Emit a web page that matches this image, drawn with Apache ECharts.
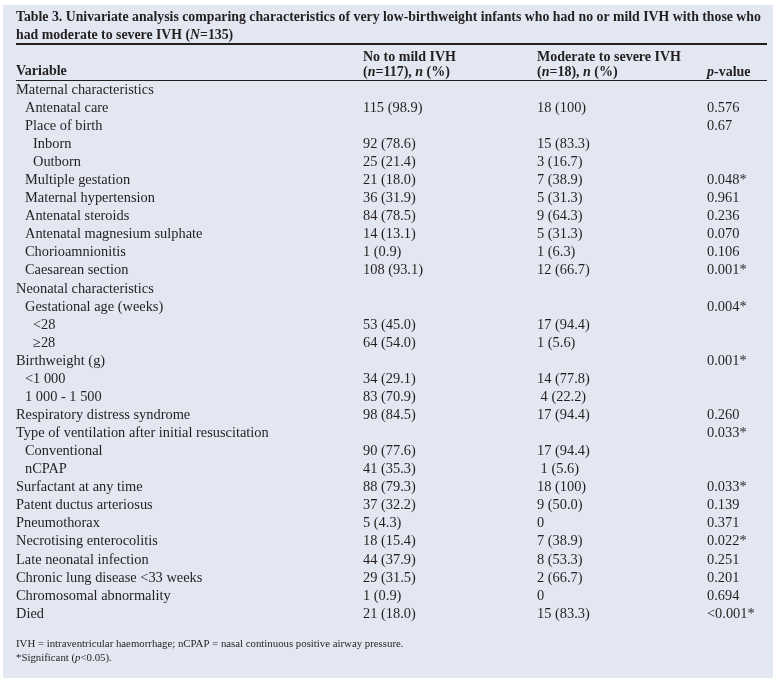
<!DOCTYPE html>
<html>
<head>
<meta charset="utf-8">
<script src="https://cdn.jsdelivr.net/npm/echarts@6/dist/echarts.min.js"></script>
<style>html,body{margin:0;padding:0;background:#fff;}#c{width:782px;height:686px;}</style>
</head>
<body>
<div id="c"></div>
<script>
// ---- data ----
const variables = [
  'Maternal characteristics','Antenatal care','Place of birth','Inborn','Outborn',
  'Multiple gestation','Maternal hypertension','Antenatal steroids','Antenatal magnesium sulphate',
  'Chorioamnionitis','Caesarean section','Neonatal characteristics','Gestational age (weeks)',
  '<28','\u226528','Birthweight (g)','<1 000','1 000 - 1 500','Respiratory distress syndrome',
  'Type of ventilation after initial resuscitation','Conventional','nCPAP','Surfactant at any time',
  'Patent ductus arteriosus','Pneumothorax','Necrotising enterocolitis','Late neonatal infection',
  'Chronic lung disease <33 weeks','Chromosomal abnormality','Died'
];
const levels = [0,1,1,2,2,1,1,1,1,1,1,0,1,2,2,0,1,1,0,0,1,1,0,0,0,0,0,0,0,0];
const noMild = [
  '','115 (98.9)','','92 (78.6)','25 (21.4)','21 (18.0)','36 (31.9)','84 (78.5)','14 (13.1)',
  '1 (0.9)','108 (93.1)','','','53 (45.0)','64 (54.0)','','34 (29.1)','83 (70.9)','98 (84.5)',
  '','90 (77.6)','41 (35.3)','88 (79.3)','37 (32.2)','5 (4.3)','18 (15.4)','44 (37.9)',
  '29 (31.5)','1 (0.9)','21 (18.0)'
];
const modSevere = [
  '','18 (100)','','15 (83.3)','3 (16.7)','7 (38.9)','5 (31.3)','9 (64.3)','5 (31.3)',
  '1 (6.3)','12 (66.7)','','','17 (94.4)','1 (5.6)','','14 (77.8)',' 4 (22.2)','17 (94.4)',
  '','17 (94.4)',' 1 (5.6)','18 (100)','9 (50.0)','0','7 (38.9)','8 (53.3)',
  '2 (66.7)','0','15 (83.3)'
];
const pValues = [
  '','0.576','0.67','','','0.048*','0.961','0.236','0.070','0.106','0.001*','','0.004*',
  '','','0.001*','','','0.260','0.033*','','','0.033*','0.139','0.371','0.022*','0.251',
  '0.201','0.694','<0.001*'
];
const titleLines = [
  'Table 3. Univariate analysis comparing characteristics of very low-birthweight infants who had no or mild IVH with those who',
  'had moderate to severe IVH ({bi|N}=135)'
];
const headers = {
  variable: 'Variable',
  noMild: ['No to mild IVH', '({bi|n}=117), {bi|n} (%)'],
  modSevere: ['Moderate to severe IVH', '({bi|n}=18), {bi|n} (%)'],
  p: '{bi|p}-value'
};
const footnotes = [
  'IVH = intraventricular haemorrhage; nCPAP = nasal continuous positive airway pressure.',
  '*Significant ({i|p}<0.05).'
];

// ---- layout ----
const FONT = '"Liberation Serif", "DejaVu Serif", serif';
const INK = '#231f20';
const BODY = 14.4;
const HEAD = 14;
const TITLE = 13.8;
const FOOT = 10.8;
const indentX = [16, 25, 33];
const colX = [363, 537, 707];
const bold = {fontFamily: FONT, fontWeight: 'bold', fontSize: HEAD, fill: INK};
const boldRich = {bi: {fontFamily: FONT, fontWeight: 'bold', fontStyle: 'italic', fontSize: HEAD, fill: INK}};
const titleStyle = {fontFamily: FONT, fontWeight: 'bold', fontSize: TITLE, fill: INK};
const titleRich = {bi: {fontFamily: FONT, fontWeight: 'bold', fontStyle: 'italic', fontSize: TITLE, fill: INK}};

const chart = echarts.init(document.getElementById('c'), null, {renderer: 'canvas'});

function txt(x, y, text, style, rich) {
  return {type: 'text', x: x, y: y, style: Object.assign({text: text, verticalAlign: 'middle', align: 'left', rich: rich}, style), silent: true};
}

const graphics = [
  {type: 'rect', shape: {x: 3, y: 5, width: 770, height: 673}, style: {fill: '#e3e7f2'}, z: -10, silent: true},
  txt(16, 17, titleLines[0], titleStyle, titleRich),
  txt(16, 35, titleLines[1], titleStyle, titleRich),
  {type: 'line', shape: {x1: 16, y1: 44, x2: 767, y2: 44}, style: {stroke: INK, lineWidth: 2}, silent: true},
  txt(16, 71, headers.variable, bold),
  txt(colX[0], 57, headers.noMild[0], bold),
  txt(colX[0], 72, headers.noMild[1], bold, boldRich),
  txt(colX[1], 57, headers.modSevere[0], bold),
  txt(colX[1], 72, headers.modSevere[1], bold, boldRich),
  txt(colX[2], 72, headers.p, bold, boldRich),
  {type: 'line', shape: {x1: 16, y1: 80.5, x2: 767, y2: 80.5}, style: {stroke: INK, lineWidth: 1.2}, silent: true},
  txt(16, 644, footnotes[0], {fontFamily: FONT, fontSize: FOOT, fill: INK}),
  txt(16, 658, footnotes[1], {fontFamily: FONT, fontSize: FOOT, fill: INK},
      {i: {fontFamily: FONT, fontStyle: 'italic', fontSize: FOOT, fill: INK}})
];

const bodyStyle = {fontFamily: FONT, fontSize: BODY, fill: INK, verticalAlign: 'middle', align: 'left'};

chart.setOption({
  animation: false,
  grid: {left: 0, right: 0, top: 81, height: 542},
  xAxis: {type: 'value', min: 0, max: 782, show: false},
  yAxis: {type: 'category', data: variables, inverse: true, show: false},
  graphic: graphics,
  series: [{
    type: 'custom',
    data: variables.map((v, i) => [0, i]),
    renderItem: function (params, api) {
      const i = params.dataIndex;
      const p = api.coord([0, i]);
      const y = p[1];
      const x = function (v) { return api.coord([v, i])[0]; };
      return {
        type: 'group',
        children: [
          {type: 'text', style: Object.assign({}, bodyStyle, {x: x(indentX[levels[i]]), y: y, text: variables[i]})},
          {type: 'text', style: Object.assign({}, bodyStyle, {x: x(colX[0]), y: y, text: noMild[i]})},
          {type: 'text', style: Object.assign({}, bodyStyle, {x: x(colX[1]), y: y, text: modSevere[i]})},
          {type: 'text', style: Object.assign({}, bodyStyle, {x: x(colX[2]), y: y, text: pValues[i]})}
        ]
      };
    }
  }]
});
</script>
</body>
</html>
